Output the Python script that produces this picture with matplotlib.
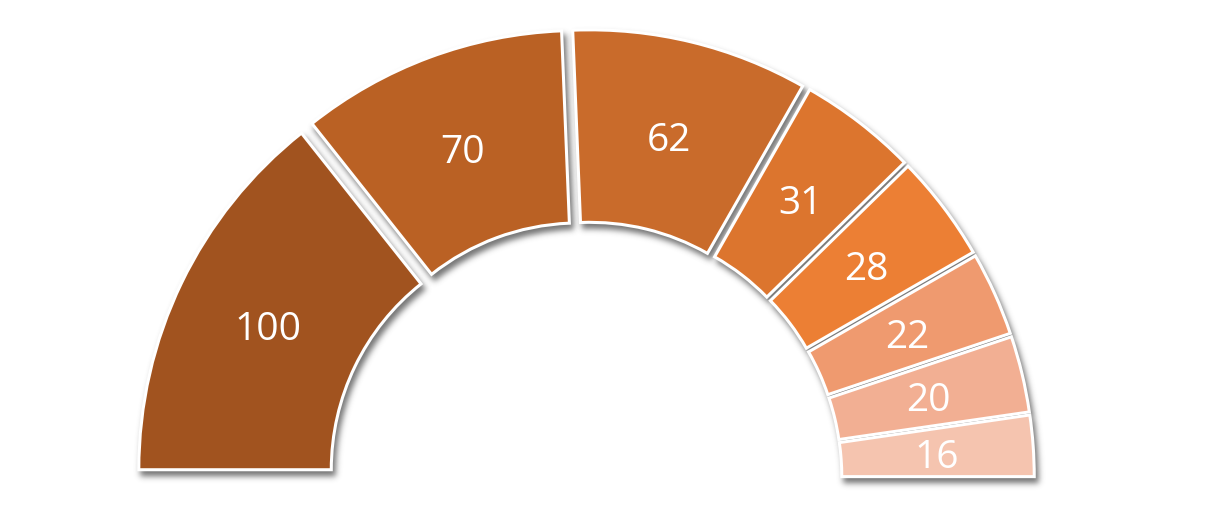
import numpy as np
import matplotlib
matplotlib.use("Agg")
import matplotlib.pyplot as plt
from matplotlib.patches import Wedge

# Data
values = [100, 70, 62, 31, 28, 22, 20, 16]
labels = ["100", "70", "62", "31", "28", "22", "20", "16"]
colors = ["#A1531F", "#BA6124", "#C96B2B", "#DC752E", "#EC7F34",
          "#EF9A6F", "#F2AF93", "#F5C4AF"]

# Layout (pixel units: the axes spans the whole canvas)
W, H = 1226, 520
CX, CY = 585.6, H - 478.0
R_OUT, R_IN = 429.7, 237.2
EXPLODE = 19.0
EDGE_LW = 2.2


def _blur1d(a, k, axis):
    r = len(k) // 2
    pad = [(0, 0), (0, 0)]
    pad[axis] = (r, r)
    p = np.pad(a, pad)
    n = a.shape[axis]
    out = np.zeros_like(a)
    for i, w in enumerate(k):
        sl = [slice(None), slice(None)]
        sl[axis] = slice(i, i + n)
        out += w * p[tuple(sl)]
    return out


def gaussian_blur(a, sigma):
    r = int(3 * sigma)
    x = np.arange(-r, r + 1)
    k = np.exp(-x ** 2 / (2 * sigma ** 2))
    k /= k.sum()
    return _blur1d(_blur1d(a, k, 0), k, 1)


def drop_shadow(img, dpi):
    pad = 18
    a = np.pad(img[..., 3], pad)
    a = np.roll(a, 5, axis=0)   # down
    a = np.roll(a, 3, axis=1)   # right
    a = gaussian_blur(a, 3.0)
    out = np.zeros(a.shape + (4,), dtype=float)
    out[..., :3] = 0.28
    out[..., 3] = np.clip(a * 0.75, 0, 1)
    return out, -pad, -pad


fig = plt.figure(figsize=(W / 100, H / 100), dpi=100)
ax = fig.add_axes([0, 0, 1, 1])

total = sum(values)
fracs = [v / (2 * total) for v in values]   # visible part spans a half circle

wedges, _ = ax.pie(
    fracs, normalize=False, startangle=180, counterclock=False,
    colors=colors, radius=R_OUT, center=(CX, CY),
    explode=[EXPLODE] * len(values), frame=True,
    wedgeprops=dict(width=R_OUT - R_IN, edgecolor="white",
                    linewidth=EDGE_LW, zorder=3),
)

# soft drop shadows underneath the segments
for w in wedges:
    sh = Wedge(w.center, w.r, w.theta1, w.theta2, width=w.width,
               facecolor="black", edgecolor="black", linewidth=EDGE_LW,
               zorder=1)
    sh.set_agg_filter(drop_shadow)
    ax.add_patch(sh)

# value labels in the middle of each segment
for w, lab in zip(wedges, labels):
    mid = np.deg2rad(0.5 * (w.theta1 + w.theta2))
    rr = w.r - w.width / 2
    x = w.center[0] + rr * np.cos(mid)
    y = w.center[1] + rr * np.sin(mid)
    ax.text(x, y - 5, lab, ha="center", va="center", color="white",
            fontsize=28, family=["Open Sans", "DejaVu Sans"], zorder=5)

ax.set_xlim(0, W)
ax.set_ylim(0, H)
ax.set_aspect("auto")
ax.axis("off")

fig.savefig("out.png", dpi=100, facecolor="white")
